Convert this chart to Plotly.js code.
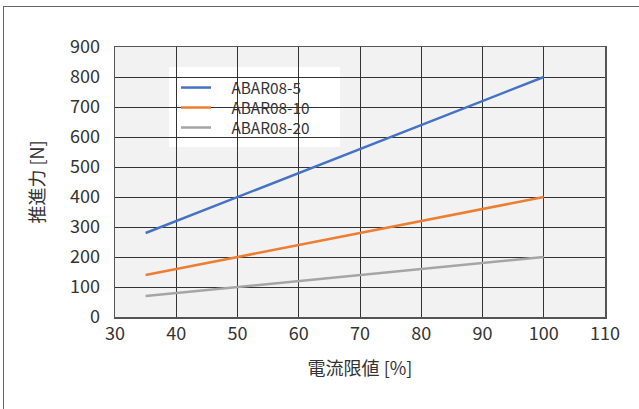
<!DOCTYPE html>
<html><head><meta charset="utf-8">
<script src="https://cdn.plot.ly/plotly-3.0.1.min.js"></script>
<style>
html,body{margin:0;padding:0;overflow:hidden;background:#fff;}
#frame{position:absolute;left:3px;top:6px;width:700px;height:500px;border-left:1.5px solid #666;border-top:1.5px solid #666;}
#chart{position:absolute;left:0;top:0;width:639px;height:409px;}
</style></head>
<body>
<div id="frame"></div>
<div id="chart"></div>
<script>
const current = [35, 100];
const seriesNames = ["ABAR08-5", "ABAR08-10", "ABAR08-20"];
const thrust5 = [280, 800];
const thrust10 = [140, 400];
const thrust20 = [70, 200];
const colors = ["#4472C4", "#ED7D31", "#A5A5A5"];
const xTicks = [30, 40, 50, 60, 70, 80, 90, 100, 110];
const yTicks = [0, 100, 200, 300, 400, 500, 600, 700, 800, 900];

const font = '"Noto Sans CJK JP", "Noto Sans", sans-serif';
const legendIds = ['legend', 'legend2', 'legend3'];
const legendY = [0.848, 0.7741, 0.7];
const data = [thrust5, thrust10, thrust20].map((y, i) => ({
  x: current, y: y, type: 'scatter', mode: 'lines', name: '\u2002\u2002' + seriesNames[i],
  legend: legendIds[i],
  line: {color: colors[i], width: 2.5}
}));
const layout = {
  width: 639, height: 409,
  margin: {l: 115, r: 34, t: 47, b: 92},
  paper_bgcolor: 'rgba(0,0,0,0)',
  plot_bgcolor: '#f2f2f2',
  font: {family: font, size: 18, color: '#333'},
  showlegend: true,
  shapes: [{type: 'rect', xref: 'paper', yref: 'paper', x0: 0.1102, x1: 0.4592, y0: 0.6296, y1: 0.9259,
    fillcolor: '#ffffff', line: {width: 0}, layer: 'between'}],
  xaxis: {range: [30, 110], tickvals: xTicks, ticktext: xTicks.map(String),
    showgrid: true, gridcolor: '#333', gridwidth: 1, zeroline: false,
    showline: true, linecolor: '#555', linewidth: 1.5, mirror: true, ticks: '',
    title: {text: '電流限値 [%]', font: {size: 18, color: '#333'}, standoff: 18}, automargin: false},
  yaxis: {range: [0, 900], tickvals: yTicks, ticktext: yTicks.map(String),
    showgrid: true, gridcolor: '#333', gridwidth: 1, zeroline: false,
    showline: true, linecolor: '#555', linewidth: 1.5, mirror: true, ticks: '',
    ticklabelstandoff: 10,
    title: {text: '推進力 [N]', font: {size: 18, color: '#333'}, standoff: 20}, automargin: false}
};
legendIds.forEach((id, i) => {
  layout[id] = {x: 0.1245, y: legendY[i], xanchor: 'left', yanchor: 'middle', bgcolor: 'rgba(0,0,0,0)',
    font: {size: 15.4, color: '#333'}, borderwidth: 0, itemwidth: 30};
});
Plotly.newPlot('chart', data, layout, {displayModeBar: false, staticPlot: true});
</script>
</body></html>
